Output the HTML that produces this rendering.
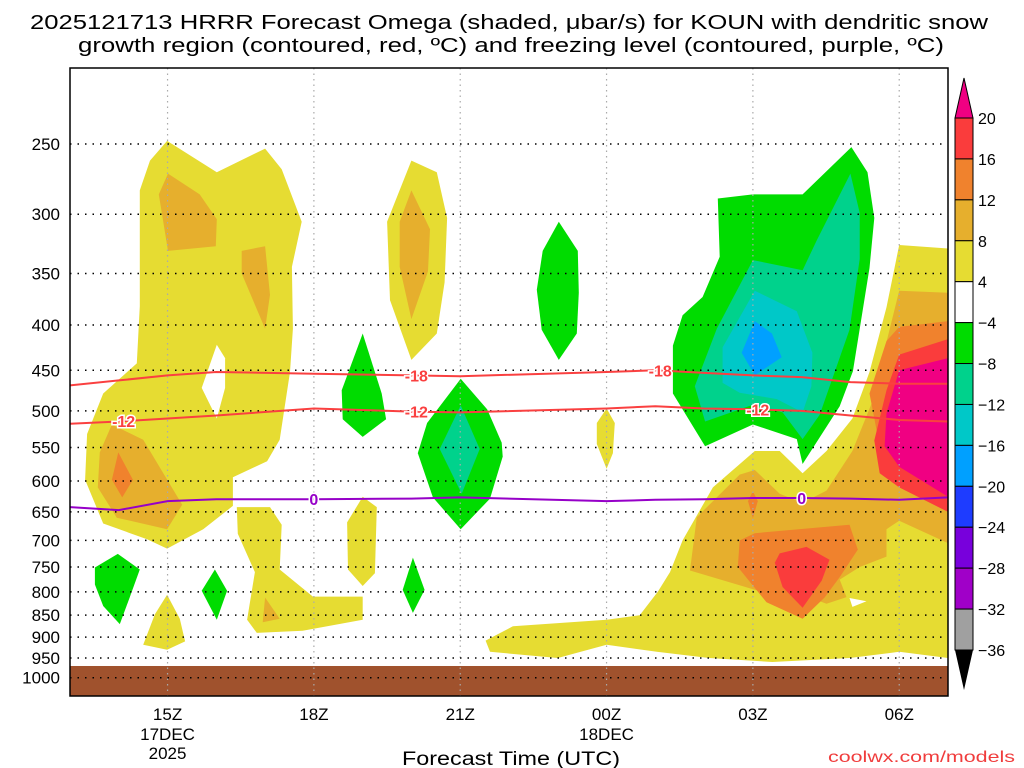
<!DOCTYPE html>
<html><head><meta charset="utf-8"><style>
html,body{margin:0;padding:0;background:#fff;}
svg{display:block;font-family:"Liberation Sans",sans-serif;}
</style></head><body>
<svg id="chart" width="1024" height="768" viewBox="0 0 1024 768" xmlns="http://www.w3.org/2000/svg">
<text x="30" y="29" font-size="20" textLength="958" lengthAdjust="spacingAndGlyphs">2025121713 HRRR Forecast Omega (shaded, μbar/s) for KOUN with dendritic snow</text>
<text x="78" y="52" font-size="20" textLength="866" lengthAdjust="spacingAndGlyphs">growth region (contoured, red, ºC) and freezing level (contoured, purple, ºC)</text>
<g id="plot"></g>
<g id="cbar"></g>
<text x="402" y="765" font-size="19" textLength="218" lengthAdjust="spacingAndGlyphs">Forecast Time (UTC)</text>
<text x="828" y="762" font-size="16" fill="#f03c3c" textLength="187" lengthAdjust="spacingAndGlyphs">coolwx.com/models</text>
</svg>
<script>
const pressureTicks=[250,300,350,400,450,500,550,600,650,700,750,800,850,900,950,1000];
const hourTicks=[15,18,21,24,27,30];
const hourLabels=["15Z","18Z","21Z","00Z","03Z","06Z"];
const dateLabels={15:["17DEC","2025"],24:["18DEC"]};
const cbarLevels=[20,16,12,8,4,-4,-8,-12,-16,-20,-24,-28,-32,-36];
const cbarColors=["#fa3c3c","#f0822d","#e6af2d","#e6dc32","#ffffff","#00dc00","#00d28c","#00c8c8","#00a0ff","#1e3cff","#7800dc","#a000c8","#a0a0a0"];
const surfaceP=970;
const yellowRegions=[
 [[14.99,248],[16.01,269],[17.0,253],[17.34,267],[17.75,306],[17.55,344],[17.57,404],[17.51,452],[17.3,539],[17.04,570],[16.34,594],[16.34,640],[15.73,680],[14.99,715],[14.58,698],[13.68,670],[13.31,598],[13.35,531],[13.68,478],[14.37,442],[14.43,381],[14.43,282],[14.64,261]],
 [[14.99,806],[15.25,858],[15.36,910],[14.99,930],[14.5,918],[14.74,848]],
 [[16.42,642],[17.1,642],[17.34,672],[17.3,755],[17.98,810],[19.0,810],[19.0,860],[17.77,885],[16.83,890],[16.63,860],[16.79,760],[16.44,688]],
 [[19.0,625],[19.29,642],[19.25,762],[19.0,788],[18.7,755],[18.68,668]],
 [[20.0,261],[20.52,269],[20.73,303],[20.68,358],[20.52,409],[20.0,438],[19.56,375],[19.5,306]],
 [[24.0,497],[24.17,516],[24.13,558],[24.0,581],[23.8,545],[23.8,516]],
 [[30.0,325],[31.0,328],[31.0,950],[30.0,935],[28.98,950],[27.4,960],[26.1,950],[25.03,935],[24.0,918],[23.0,950],[21.61,935],[21.52,908],[22.08,875],[24.0,860],[24.68,850],[25.05,800],[25.3,760],[25.56,700],[26.18,610],[27.04,555],[27.55,555],[28.02,588],[28.51,555],[29.04,510],[29.39,452],[29.74,382]]
];
const orangeRegions=[
 [[15.01,270],[15.66,285],[16.01,304],[15.99,326],[15.01,330],[14.82,285]],
 [[16.52,330],[17.0,326],[17.1,370],[17.0,404],[16.52,350]],
 [[13.86,518],[14.5,539],[15.3,638],[14.99,680],[13.96,660],[13.57,610],[13.61,557]],
 [[17.0,812],[17.3,858],[16.95,866]],
 [[20.0,282],[20.38,312],[20.34,348],[20.0,394],[19.76,344],[19.76,306]],
 [[30.0,366],[31.0,368],[31.0,705],[30.0,665],[29.74,680],[29.74,730],[29.19,750],[28.78,775],[28.92,811],[28.51,825],[28.02,806],[27.08,797],[25.71,757],[25.85,659],[26.73,590],[27.04,583],[27.55,620],[28.02,635],[28.51,615],[29.04,555],[29.45,488],[29.74,418]]
];
const darkOrangeRegions=[
 [[13.99,557],[14.29,598],[14.07,626],[13.86,598]],
 [[30.0,402],[31.0,396],[31.0,650],[30.68,624],[30.0,583],[29.6,548],[29.39,478],[29.74,417]],
 [[27.04,687],[28.98,672],[29.15,717],[28.78,770],[28.47,812],[28.02,858],[27.28,822],[26.69,750],[26.73,700]],
 [[27.0,616],[27.1,632],[27.0,661],[26.9,632]]
];
const redRegions=[
 [[28.1,712],[28.57,736],[28.41,777],[28.02,834],[27.61,790],[27.45,742],[27.55,724]],
 [[31.0,415],[30.0,432],[29.74,474],[29.49,540],[29.6,588],[30.0,610],[31.0,650]]
];
const magentaRegions=[
 [[31.0,436],[30.0,450],[29.74,503],[29.7,548],[30.0,578],[31.0,625]]
];
const whiteHoles=[
 [[16.01,421],[15.7,471],[16.01,510],[16.18,471],[16.18,436]],
 [[28.98,813],[29.33,820],[29.04,832]]
];
const greenRegions=[
 [[13.51,751],[13.98,725],[14.43,755],[14.23,810],[14.02,870],[13.68,830],[13.51,785]],
 [[15.97,755],[16.22,798],[16.01,860],[15.7,798]],
 [[19.0,409],[19.39,478],[19.48,511],[19.0,535],[18.59,511],[18.57,474]],
 [[23.02,306],[23.41,330],[23.43,368],[23.39,409],[23.02,438],[22.67,405],[22.57,365],[22.69,330]],
 [[21.01,460],[21.55,498],[21.85,543],[21.87,563],[21.61,628],[21.01,680],[20.44,626],[20.13,558],[20.32,516]],
 [[20.03,732],[20.27,796],[20.03,845],[19.82,796]],
 [[29.02,252],[29.35,269],[29.49,303],[29.39,345],[29.05,451],[28.78,494],[28.02,574],[27.9,538],[27.0,518],[26.02,548],[25.36,478],[25.36,422],[25.56,390],[25.97,372],[26.32,335],[26.28,288],[27.0,285],[28.02,285]]
];
const green2Regions=[
 [[21.01,493],[21.4,552],[21.03,620],[20.58,552]],
 [[29.0,270],[29.19,299],[29.19,337],[28.98,405],[28.37,505],[28.02,538],[27.61,502],[27.0,492],[26.02,514],[25.81,469],[26.26,404],[27.0,338],[28.02,347],[28.31,321]]
];
const cyanRegions=[
 [[27.04,366],[27.9,386],[28.22,430],[28.2,469],[28.02,502],[27.49,485],[26.73,477],[26.38,465],[26.38,424]]
];
const blueRegions=[
 [[27.04,396],[27.39,409],[27.59,435],[27.04,456],[26.77,430]]
];
const lineHours=[13,14,15,16,18,20,21,24,25,26,27,28,29,30,31];
const iso18=[468,462,456,452,454,456,457,452,450,453,456,458,464,466,466];
const iso12=[517,514,510,506,497,501,502,497,494,497,498,500,506,512,514];
const freeze=[642,647,632,629,629,628,626,632,630,629,627,627,628,630,626];
const iso18Labels=[20.1,25.1];
const iso12Labels=[14.1,20.1,27.1];
const freezeLabels=[18.0,28.0];

const X0=70,X1=948,Y0=68,Y1=696;
const xs=h=>X0+(h-13)*(X1-X0)/18;
const ys=p=>144+385*Math.log(p/250);
const NS="http://www.w3.org/2000/svg";
const plot=document.getElementById('plot');
function mk(tag,attrs,parent){const e=document.createElementNS(NS,tag);for(const k in attrs)e.setAttribute(k,attrs[k]);parent.appendChild(e);return e;}
const cp=mk('clipPath',{id:'clip'},plot);mk('rect',{x:X0,y:Y0,width:X1-X0,height:Y1-Y0},cp);
const shade=mk('g',{'clip-path':'url(#clip)'},plot);
function poly(pts,fill,name){
 const e=mk('polygon',{points:pts.map(q=>xs(q[0]).toFixed(1)+','+ys(q[1]).toFixed(1)).join(' '),fill:fill},shade);
 
 
}
yellowRegions.forEach(r=>poly(r,'#e6dc32','omega-4-8-region'));
orangeRegions.forEach(r=>poly(r,'#e6af2d','omega-8-12-region'));
darkOrangeRegions.forEach(r=>poly(r,'#f0822d','omega-12-16-region'));
redRegions.forEach(r=>poly(r,'#fa3c3c','omega-16-20-region'));
magentaRegions.forEach(r=>poly(r,'#f00082','omega-over-20-region'));
whiteHoles.forEach(r=>poly(r,'#ffffff','omega-neutral-hole'));
greenRegions.forEach(r=>poly(r,'#00dc00','omega-neg4-neg8-region'));
green2Regions.forEach(r=>poly(r,'#00d28c','omega-neg8-neg12-region'));
cyanRegions.forEach(r=>poly(r,'#00c8c8','omega-neg12-neg16-region'));
blueRegions.forEach(r=>poly(r,'#00a0ff','omega-neg16-neg20-region'));
const ground=mk('rect',{x:X0,y:ys(surfaceP),width:X1-X0,height:Y1-ys(surfaceP),fill:'#a0522d'},shade);


hourTicks.forEach(h=>{const l=mk('line',{x1:xs(h),x2:xs(h),y1:Y0,y2:Y1,stroke:'#aaa','stroke-width':1.2,'stroke-dasharray':'1.5 4'},plot);
 
 });
pressureTicks.forEach(p=>{const l=mk('line',{x1:X0,x2:X1,y1:ys(p),y2:ys(p),stroke:'#000','stroke-width':1.5,'stroke-dasharray':'1.5 6'},plot);
 
 
 const t=mk('text',{x:60,y:ys(p)+6,'font-size':17,'text-anchor':'end'},plot);t.textContent=p;
 
 });
hourTicks.forEach((h,i)=>{const t=mk('text',{x:xs(h),y:720,'font-size':17,'text-anchor':'middle'},plot);t.textContent=hourLabels[i];
 
 
 (dateLabels[h]||[]).forEach((s,j)=>{const d=mk('text',{x:xs(h),y:740+j*19,'font-size':17,'text-anchor':'middle'},plot);d.textContent=s;
  
  });});
function interp(arr,h){for(let i=0;i<lineHours.length-1;i++){if(h>=lineHours[i]&&h<=lineHours[i+1]){const f=(h-lineHours[i])/(lineHours[i+1]-lineHours[i]);return arr[i]+f*(arr[i+1]-arr[i]);}}return arr[arr.length-1];}
function cline(arr,color,name,labels,txt){
 const g=mk('g',{'clip-path':'url(#clip)'},plot);
 const e=mk('polyline',{points:lineHours.map((h,i)=>xs(h).toFixed(1)+','+ys(arr[i]).toFixed(1)).join(' '),fill:'none',stroke:color,'stroke-width':2},g);
 
 
 labels.forEach(h=>{const x=xs(h),y=ys(interp(arr,h));
  const t=mk('text',{x:x,y:y+6,'font-size':16,'font-weight':'bold','text-anchor':'middle',fill:color,stroke:'#fff','stroke-width':3,'paint-order':'stroke'},plot);t.textContent=txt;
  
  });
}
cline(iso18,'#fa4040','isotherm-minus-18',iso18Labels,'-18');
cline(iso12,'#fa4040','isotherm-minus-12',iso12Labels,'-12');
cline(freeze,'#9600c8','freezing-level',freezeLabels,'0');
const fr=mk('rect',{x:X0,y:Y0,width:X1-X0,height:Y1-Y0,fill:'none',stroke:'#000','stroke-width':1.5},plot);


const cb=document.getElementById('cbar');
const CX=955,CW=18,CT=118,cstep=(650-118)/(cbarLevels.length-1);
const cbTop=mk('polygon',{points:`${CX},${CT} ${CX+CW},${CT} ${CX+CW/2},78`,fill:'#f00082',stroke:'#000','stroke-width':1},cb);


cbarColors.forEach((c,i)=>{const r=mk('rect',{x:CX,y:CT+i*cstep,width:CW,height:cstep,fill:c,stroke:'#000','stroke-width':1},cb);
 
 });
const cbBot=mk('polygon',{points:`${CX},650 ${CX+CW},650 ${CX+CW/2},690`,fill:'#000'},cb);


cbarLevels.forEach((v,i)=>{const t=mk('text',{x:978,y:CT+i*cstep+6,'font-size':16},cb);t.textContent=(v<0?'\u2212':'')+Math.abs(v);
 
 });
</script>
</body></html>
